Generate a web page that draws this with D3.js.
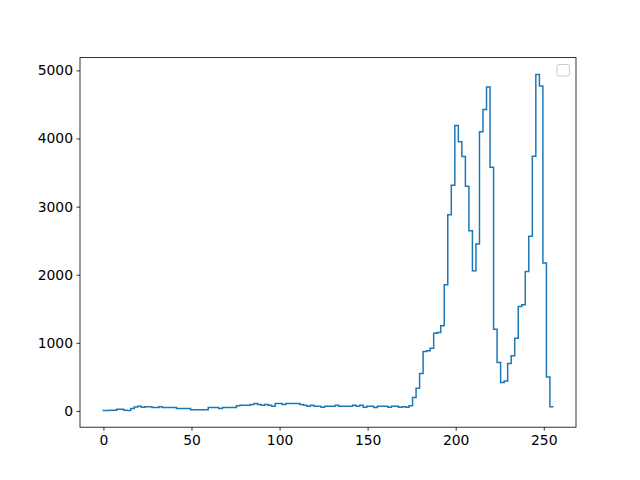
<!DOCTYPE html>
<html>
<head>
<meta charset="utf-8">
<script src="https://cdn.jsdelivr.net/npm/d3@7"></script>
<style>
  html, body { margin: 0; padding: 0; background: #ffffff; }
  svg { display: block; }
  text { font-family: "DejaVu Sans", sans-serif; font-size: 13.9px; fill: #000; }
</style>
</head>
<body>
<svg id="chart" width="640" height="480"></svg>
<script>
// Bin edges: 128 bins of width 2 starting at -0.5
const binStart = -0.5;
const binWidth = 2;
const counts = [
  8, 8, 10, 10, 25, 25, 10, 8, 35, 59,
  68, 55, 63, 63, 49, 49, 63, 49, 49, 49,
  49, 35, 35, 35, 35, 18, 18, 18, 18, 18,
  49, 49, 49, 35, 49, 49, 49, 49, 78, 83,
  83, 83, 93, 108, 93, 83, 93, 83, 68, 108,
  108, 93, 108, 108, 108, 108, 93, 83, 68, 83,
  68, 68, 54, 68, 68, 68, 83, 68, 68, 68,
  68, 83, 68, 83, 54, 68, 68, 49, 68, 68,
  68, 54, 68, 68, 54, 62, 55, 78, 196, 335,
  549, 873, 882, 922, 1142, 1152, 1250, 1853, 2882, 3314,
  4191, 3951, 3735, 3299, 2647, 2059, 2451, 4098, 4426, 4755,
  3578, 1201, 711, 417, 441, 696, 809, 1069, 1534, 1559,
  2049, 2564, 3740, 4941, 4770, 2172, 500, 62
];
const xTicks = [0, 50, 100, 150, 200, 250];
const yTicks = [0, 1000, 2000, 3000, 4000, 5000];

(function () {
const edges = d3.range(counts.length + 1).map(i => binStart + i * binWidth);
const points = counts.map((c, i) => [edges[i], c]);
points.push([edges[edges.length - 1], counts[counts.length - 1]]);

const W = 640, H = 480;
const axLeft = 80, axRight = 576, axTop = 57.6, axBottom = 427.2;

function padded(ext) {
  const r = ext[1] - ext[0];
  return [ext[0] - 0.05 * r, ext[1] + 0.05 * r];
}
const xExt = d3.extent(edges);
const yExt = d3.extent(counts);

const x = d3.scaleLinear().domain(padded(xExt)).range([axLeft, axRight]);
const y = d3.scaleLinear().domain(padded(yExt)).range([axBottom, axTop]);

const svg = d3.select("#chart");
svg.append("rect").attr("width", W).attr("height", H).attr("fill", "#ffffff");

svg.append("clipPath").attr("id", "clip")
  .append("rect").attr("x", axLeft).attr("y", axTop)
  .attr("width", axRight - axLeft).attr("height", axBottom - axTop);

const line = d3.line()
  .x(d => x(d[0]))
  .y(d => y(d[1]))
  .curve(d3.curveStepAfter);

svg.append("path")
  .datum(points)
  .attr("clip-path", "url(#clip)")
  .attr("fill", "none")
  .attr("stroke", "#1f77b4")
  .attr("stroke-width", 1.5)
  .attr("stroke-linejoin", "miter")
  .attr("stroke-linecap", "butt")
  .attr("d", line);

const xAxis = d3.axisBottom(x).tickValues(xTicks).tickSize(3.5).tickPadding(3.5).tickFormat(d3.format("d"));
const yAxis = d3.axisLeft(y).tickValues(yTicks).tickSize(3.5).tickPadding(3.5).tickFormat(d3.format("d"));

const gx = svg.append("g").attr("transform", `translate(0,${axBottom})`).call(xAxis);
const gy = svg.append("g").attr("transform", `translate(${axLeft},0)`).call(yAxis);
[gx, gy].forEach(g => {
  g.select(".domain").remove();
  g.selectAll(".tick line").attr("stroke", "#000").attr("stroke-width", 0.8);
  g.selectAll(".tick text")
    .attr("font-family", "DejaVu Sans, sans-serif")
    .attr("font-size", "13.9px")
    .attr("fill", "#000");
});
gx.selectAll(".tick text").attr("dy", "0.75em");

svg.append("rect")
  .attr("x", axLeft).attr("y", axTop)
  .attr("width", axRight - axLeft).attr("height", axBottom - axTop)
  .attr("fill", "none")
  .attr("stroke", "#000")
  .attr("stroke-width", 0.8);

// empty legend box (no labelled artists)
svg.append("rect")
  .attr("x", 557).attr("y", 64.5)
  .attr("width", 12.5).attr("height", 11.5)
  .attr("rx", 2).attr("ry", 2)
  .attr("fill", "#ffffff").attr("fill-opacity", 0.8)
  .attr("stroke", "#cccccc").attr("stroke-width", 1);
})();
</script>
</body>
</html>
